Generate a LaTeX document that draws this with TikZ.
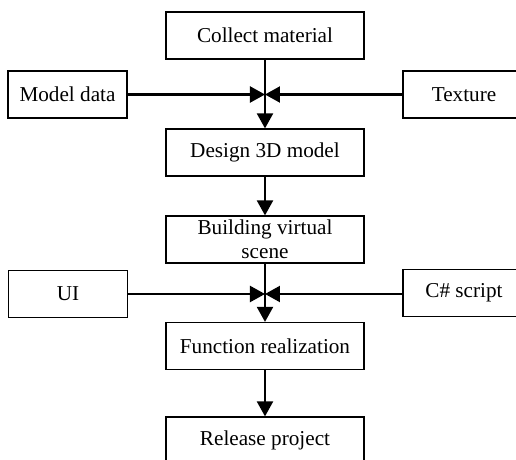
\documentclass[tikz,border=0pt]{standalone}
\usepackage{fontspec}
\setmainfont{Liberation Serif}
\usetikzlibrary{arrows.meta}
\begin{document}
\begin{tikzpicture}[x=0.5pt,y=-0.5pt,
  box/.style={draw=black, line width=0.6pt, inner sep=0pt, align=center,
    font=\fontsize{10.6}{12.2}\selectfont, minimum height=23.5pt},
  mainbox/.style={box, minimum width=99pt},
  sidebox/.style={box, minimum width=59.5pt},
  flow/.style={line width=1.1pt, -{Triangle[length=7.5pt,width=8pt]}},
  plain/.style={line width=1.1pt}]
\useasboundingbox (0,0) rectangle (516,460);
\clip (0,0) rectangle (516,460);
\node[mainbox] (collect) at (265,35.5) {Collect material};
\node[sidebox] (model) at (67.5,94.5) {Model data};
\node[sidebox, minimum width=61pt] (texture) at (464,94.5) {Texture};
\coordinate (j1) at (265,94.5);
\node[mainbox] (design) at (265,152.5) {Design 3D model};
\node[mainbox] (building) at (265,239.5) {Building virtual\\scene};
\node[sidebox] (ui) at (68,294) {UI};
\node[sidebox, minimum width=61pt] (csharp) at (464,293) {C\# script};
\coordinate (j2) at (265,294);
\node[mainbox] (function) at (265,346) {Function realization};
\node[mainbox] (release) at (265,440.5) {Release project};
\draw[flow] (collect) -- (design);
\draw[flow] (model.east |- j1) -- (j1);
\draw[flow] (texture.west |- j1) -- (j1);
\draw[flow] (design) -- (building);
\draw[flow] (building) -- (function);
\draw[flow] (ui.east |- j2) -- (j2);
\draw[flow] (csharp.west |- j2) -- (j2);
\draw[flow] (function) -- (release);
\end{tikzpicture}
\end{document}
